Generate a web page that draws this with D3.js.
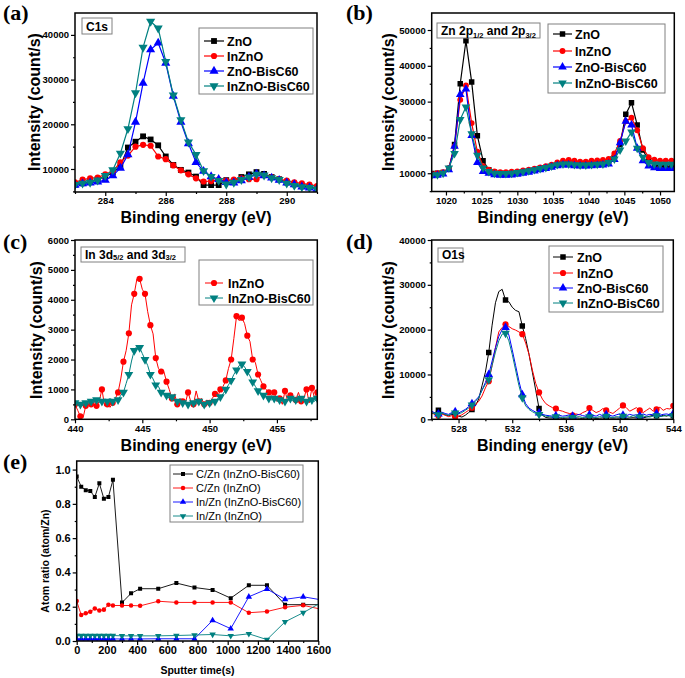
<!DOCTYPE html>
<html><head><meta charset="utf-8">
<script src="https://cdn.jsdelivr.net/npm/d3@7"></script>
<style>body{margin:0;background:#fff}svg{display:block}</style>
</head><body><script>
// ---------------- DATA ----------------
const seriesNames = ["ZnO","InZnO","ZnO-BisC60","InZnO-BisC60"];
// (a) C1s
const aX = [283.0,283.25,283.5,283.75,284.0,284.25,284.5,284.75,285.0,285.25,285.5,285.75,286.0,286.25,286.5,286.75,287.0,287.25,287.5,287.75,288.0,288.25,288.5,288.75,289.0,289.25,289.5,289.75,290.0,290.25,290.5,290.75,291.0];
const aZnO = [6500,6800,7200,7800,8300,9200,10600,14800,16100,17300,16600,15300,12800,10900,9800,9200,8300,6400,6400,6400,7500,7300,8200,8800,9300,8900,8200,7700,7000,6600,6200,6000,5800];
const aInZnO = [7000,7600,7900,8100,8800,9500,11500,13000,15000,15400,15200,12800,12200,10800,9700,8800,7900,7200,7300,7600,7400,7600,7900,7700,7700,8600,8200,7700,7400,7000,6800,6500,6200];
const aZnOBis = [6400,6700,6900,7100,7500,8500,10200,13200,20500,29200,36700,38200,33700,26300,20500,15700,11500,9500,8300,7700,7000,6900,7400,8200,8900,8500,8000,7500,6900,6500,6000,5800,5500];
const aInZnOBis = [6500,6800,7000,7500,8500,9800,13500,19000,27000,37200,43000,41500,34000,26500,21000,16000,13200,9600,8300,7400,6600,7000,7600,8200,8800,8600,8000,7600,6800,6300,6000,5800,5500];
// (b) Zn 2p
const bX = [1018.0,1018.8,1019.6,1020.4,1021.2,1022.0,1022.8,1023.6,1024.4,1025.2,1026.0,1026.8,1027.6,1028.4,1029.2,1030.0,1030.8,1031.6,1032.4,1033.2,1034.0,1034.8,1035.6,1036.4,1037.2,1038.0,1038.8,1039.6,1040.4,1041.2,1042.0,1042.8,1043.6,1044.4,1045.2,1046.0,1046.8,1047.6,1048.4,1049.2,1050.0,1050.8,1051.6,1052.4];
const bZnO = [9900,10000,10200,11200,18000,35000,47000,35500,20500,13500,11000,10300,10000,10000,10000,10200,10400,10700,11000,11300,11600,12000,12400,12800,13000,12800,12700,12700,12800,12900,13000,13300,14500,18000,26500,29700,23500,16500,13500,12300,12000,11800,11800,11800];
const bInZnO = [9800,10000,10300,11500,17500,30500,34500,24000,16000,12000,11000,10500,10300,10300,10400,10500,10800,11000,11300,11600,12000,12400,13000,13500,13700,13500,13200,13200,13500,13600,13700,14000,15500,19000,24500,25500,22000,17000,14500,13800,13500,13500,13500,13500];
const bZnOBis = [9300,9400,9800,11000,17500,32000,33500,20500,13000,10500,10000,9600,9400,9400,9500,9700,10000,10300,10600,11000,11300,11700,12100,12300,12300,12100,12000,12000,12100,12200,12300,12600,13800,18500,24500,23500,17000,13500,12000,11500,11300,11300,11300,11300];
const bInZnOBis = [9500,9600,10000,11500,15500,25000,28500,21000,15000,11500,10500,10000,9900,9900,10000,10200,10400,10700,11000,11300,11600,12000,12400,12600,12600,12400,12300,12300,12400,12500,12600,13000,14000,16500,19000,21500,17000,14500,13000,12600,12500,12500,12500,12500];
// (c) In 3d
const cX = [440.0,440.2,440.4,440.6,440.8,441.0,441.2,441.4,441.6,441.8,
 442.0,442.2,442.4,442.6,442.8,443.0,443.2,443.4,443.6,443.8,
 444.0,444.2,444.4,444.6,444.8,445.0,445.2,445.4,445.6,445.8,
 446.0,446.2,446.4,446.6,446.8,447.0,447.2,447.4,447.6,447.8,
 448.0,448.2,448.4,448.6,448.8,449.0,449.2,449.4,449.6,449.8,
 450.0,450.2,450.4,450.6,450.8,451.0,451.2,451.4,451.6,451.8,
 452.0,452.2,452.4,452.6,452.8,453.0,453.2,453.4,453.6,453.8,
 454.0,454.2,454.4,454.6,454.8,455.0,455.2,455.4,455.6,455.8,
 456.0,456.2,456.4,456.6,456.8,457.0,457.2,457.4,457.6,457.8,
 458.0];
const cInZnO = [500,300,100,50,450,600,500,650,450,600,
 1000,450,500,400,550,700,900,1350,1930,2300,
 2880,3830,4200,4700,4700,4350,4200,3600,3150,2860,
 2050,1700,1600,1600,1260,1000,700,850,500,700,
 600,550,900,600,500,950,600,700,500,650,
 550,700,850,750,1000,1100,1300,1700,2000,2700,
 3450,3300,3400,3200,2800,2600,2000,1900,1500,1300,
 1100,1000,900,800,900,600,700,500,950,600,
 800,700,650,900,600,700,1000,550,1050,700,
 900];
const cInZnOBis = [550,450,500,450,550,500,600,550,650,550,
 600,650,600,700,600,700,650,800,900,1200,
 1500,1950,2300,2450,2400,2200,2000,1800,1500,1350,
 1150,1100,900,850,800,700,750,650,600,650,
 550,600,500,600,550,500,600,550,500,600,
 550,650,600,700,750,850,1000,1150,1300,1500,
 1650,1800,1850,1750,1600,1450,1250,1100,950,900,
 800,750,700,650,700,600,650,700,600,650,
 700,600,650,600,700,650,600,700,650,600,
 700];
// (d) O1s
const dX = [526.0,526.25,526.5,526.75,527.0,527.25,527.5,527.75,
 528.0,528.25,528.5,528.75,529.0,529.25,529.5,529.75,
 530.0,530.25,530.5,530.75,531.0,531.25,531.5,531.75,
 532.0,532.25,532.5,532.75,533.0,533.25,533.5,533.75,
 534.0,534.25,534.5,534.75,535.0,535.25,535.5,535.75,
 536.0,536.25,536.5,536.75,537.0,537.25,537.5,537.75,
 538.0,538.25,538.5,538.75,539.0,539.25,539.5,539.75,
 540.0,540.25,540.5,540.75,541.0,541.25,541.5,541.75,
 542.0,542.25,542.5,542.75,543.0,543.25,543.5,543.75,
 544.0];
const dZnO = [1200,1500,2000,1300,1000,800,1100,900,
 700,500,900,1500,2200,3000,4500,7500,
 10500,14900,21000,26000,28500,29000,26600,26200,
 25000,24300,24000,20800,18000,14500,10500,6500,
 2400,900,400,300,300,250,300,200,
 250,300,200,300,250,200,300,250,
 300,200,250,300,200,300,250,300,
 250,300,200,300,350,300,400,300,
 500,700,900,800,600,900,700,1000,
 800];
const dInZnO = [1500,1000,800,1200,900,600,800,500,
 700,1000,1500,2000,2600,3200,4000,5200,
 7000,8500,12000,16000,19500,20500,21200,20700,
 20200,19900,19500,19000,17000,14500,11000,8000,
 6000,4500,3500,3000,2600,2400,2000,1800,
 1500,1300,900,1200,1000,1500,1800,2500,
 2000,1500,1800,2400,2000,1600,1300,1900,
 2500,3100,2600,1800,2200,2600,2000,1500,
 2000,2500,1800,2200,2700,2000,2400,2300,
 3000];
const dZnOBis = [1800,1400,1200,1600,1300,1100,1500,1700,
 1400,1800,2200,2800,3500,4200,5000,6500,
 8200,10000,13000,16000,18500,20000,20500,18800,
 15500,12000,8500,5500,3500,2500,2000,1600,
 1400,1100,900,800,700,800,900,700,
 800,1000,700,900,1100,800,700,1000,
 900,700,1100,800,1000,900,700,1000,
 1200,900,800,1100,900,1000,800,1200,
 900,1100,1000,1300,900,1100,1200,1000,
 1300];
const dInZnOBis = [1500,1200,1000,1400,1100,900,1300,1400,
 1200,1500,2000,2500,3200,4000,4800,6500,
 7800,8800,12000,15000,17500,19000,19200,17500,
 14500,11000,7500,4800,3000,2200,1700,1300,
 1100,900,700,600,500,600,500,400,
 500,600,400,500,600,400,500,600,
 500,400,600,500,700,500,400,600,
 500,700,600,500,800,600,500,700,
 600,500,700,800,600,700,900,700,
 800];
// (e) atom ratio vs sputter time
const eNames = ["C/Zn (InZnO-BisC60)","C/Zn (InZnO)","In/Zn (InZnO-BisC60)","In/Zn (InZnO)"];
const eX = [0,30,60,90,120,150,180,210,240,300,360,420,540,660,780,900,1020,1140,1260,1380,1500,1620];
const eCZnBis = [0.96,0.90,0.88,0.875,0.84,0.92,0.83,0.84,0.94,0.224,0.278,0.305,0.305,0.338,0.312,0.298,0.25,0.325,0.325,0.212,0.212,0.212];
const eCZn = [0.233,0.152,0.162,0.17,0.19,0.178,0.183,0.212,0.207,0.207,0.207,0.205,0.232,0.225,0.225,0.225,0.225,0.165,0.172,0.197,0.208,0.185];
const eInZnBis = [0.012,0.012,0.012,0.012,0.012,0.012,0.012,0.012,0.012,0.012,0.012,0.012,0.013,0.013,0.013,0.12,0.072,0.258,0.303,0.243,0.258,0.24];
const eInZn = [0.032,0.032,0.032,0.032,0.032,0.032,0.032,0.032,0.032,0.03,0.03,0.03,0.03,0.032,0.035,0.038,0.03,0.042,0.008,0.112,0.165,0.225];

// ---------------- DRAWING ----------------
const FONT = "'Liberation Sans', Arial, sans-serif";
const SERIF = "'Liberation Serif', 'Times New Roman', serif";
const C = {k:"#000000", r:"#ff0000", b:"#0000ff", t:"#008080"};
const svg = d3.select("body").append("svg").attr("width",685).attr("height",678)
  .style("font-family",FONT);

function markerPath(shape,size){
  const t = {square:d3.symbolSquare, circle:d3.symbolCircle, up:d3.symbolTriangle, down:d3.symbolTriangle}[shape];
  return d3.symbol().type(t).size(size)();
}
function marker(g,shape,size,color,cx,cy){
  g.append("path").attr("d",markerPath(shape,size)).attr("fill",color)
   .attr("transform",`translate(${cx},${cy})`+(shape==="down"?" rotate(180)":""));
}

let clipN=0;
function panel(cfg){
  const f=cfg.frame;
  const x=d3.scaleLinear().domain(cfg.xDomain).range([f.L,f.R]);
  const y=d3.scaleLinear().domain(cfg.yDomain).range([f.B,f.T]);
  const g=svg.append("g");
  const id="clip"+(clipN++);
  svg.append("clipPath").attr("id",id).append("rect")
    .attr("x",f.L).attr("y",f.T-1).attr("width",f.R-f.L).attr("height",f.B-f.T+1);
  const plot=g.append("g").attr("clip-path",`url(#${id})`);
  cfg.series.forEach(s=>{
    const n=Math.min(s.x.length,s.y.length);
    const pts=d3.range(n).map(i=>[s.x[i],s.y[i]]);
    plot.append("path").datum(pts)
      .attr("d",d3.line().x(d=>x(d[0])).y(d=>y(d[1])))
      .attr("fill","none").attr("stroke",s.color).attr("stroke-width",cfg.lw).attr("stroke-linejoin","round");
    const ev=cfg.mEvery||1, off=cfg.mOff||0;
    pts.forEach((p,i)=>{ if(i>=off && (i-off)%ev===0) marker(plot,s.shape,cfg.mSize[s.shape],s.color,x(p[0]),y(p[1])); });
  });
  // axes
  const styleAxis=(a,fs)=>{
    a.select(".domain").remove();
    a.selectAll("line").attr("stroke","#000").attr("stroke-width",1.2);
    a.selectAll("text").attr("font-size",fs).attr("font-weight","bold").attr("font-family",FONT).attr("fill","#000");
  };
  const ax=g.append("g").attr("transform",`translate(0,${f.B})`)
    .call(d3.axisBottom(x).tickValues(cfg.xTicks).tickFormat(cfg.xFmt).tickSize(4).tickPadding(cfg.xPad));
  styleAxis(ax,cfg.tickFont);
  const axm=g.append("g").attr("transform",`translate(0,${f.B})`)
    .call(d3.axisBottom(x).tickValues(cfg.xMinor).tickFormat("").tickSize(2));
  styleAxis(axm,cfg.tickFont);
  const ay=g.append("g").attr("transform",`translate(${f.L},0)`)
    .call(d3.axisLeft(y).tickValues(cfg.yTicks).tickFormat(cfg.yFmt).tickSize(4).tickPadding(cfg.yPad));
  styleAxis(ay,cfg.tickFont);
  const aym=g.append("g").attr("transform",`translate(${f.L},0)`)
    .call(d3.axisLeft(y).tickValues(cfg.yMinor).tickFormat("").tickSize(2));
  styleAxis(aym,cfg.tickFont);
  // frame
  g.append("rect").attr("x",f.L).attr("y",f.T).attr("width",f.R-f.L).attr("height",f.B-f.T)
    .attr("fill","none").attr("stroke","#000").attr("stroke-width",1.5);
  // titles
  g.append("text").attr("x",(f.L+f.R)/2).attr("y",cfg.xTitleY).attr("text-anchor","middle")
    .attr("font-size",cfg.titleFont).attr("font-weight","bold").text(cfg.xTitle);
  g.append("text").attr("transform",`translate(${cfg.yTitleX},${cfg.yTitleCY}) rotate(-90)`)
    .attr("text-anchor","middle").attr("font-size",cfg.titleFont).attr("font-weight","bold").text(cfg.yTitle);
  // panel letter
  g.append("text").attr("x",cfg.letter.x).attr("y",cfg.letter.y).attr("font-family",SERIF)
    .attr("font-size",22).attr("font-weight","bold").text(cfg.letter.t);
  // legend
  const lg=cfg.legend;
  g.append("rect").attr("x",lg.x).attr("y",lg.y).attr("width",lg.w).attr("height",lg.h)
    .attr("fill","#fff").attr("stroke","#808080").attr("stroke-width",1);
  cfg.series.forEach((s,i)=>{
    const yy=lg.rows[i];
    g.append("line").attr("x1",lg.l1).attr("x2",lg.l2).attr("y1",yy).attr("y2",yy)
      .attr("stroke",s.color).attr("stroke-width",cfg.lw);
    marker(g,s.shape,cfg.mSize[s.shape],s.color,(lg.l1+lg.l2)/2,yy);
    g.append("text").attr("x",lg.tx).attr("y",yy).attr("dy","0.36em")
      .attr("font-size",lg.fs).attr("font-weight",lg.fw).text(s.name);
  });
  // label box
  if(cfg.label){
    const lb=cfg.label;
    g.append("rect").attr("x",lb.x).attr("y",lb.y).attr("width",lb.w).attr("height",lb.h)
      .attr("fill","#fff").attr("stroke","#808080").attr("stroke-width",1);
    const t=g.append("text").attr("x",lb.x+4).attr("y",lb.y+lb.h-3.5).attr("font-size",12).attr("font-weight","bold");
    lb.parts.forEach(p=>{
      t.append("tspan").attr("font-size",p.small?7.5:12).attr("dy",p.dy||0).text(p.t);
    });
  }
}

const fmtD=d3.format("d");
const big={square:34,circle:30,up:36,down:36};

panel({
  frame:{L:75,R:317,T:13,B:192}, xDomain:[283,291], yDomain:[4850,44900],
  xTicks:[284,286,288,290], xMinor:[283,285,287,289,291], yTicks:[10000,20000,30000,40000], yMinor:[5000,15000,25000,35000],
  xFmt:fmtD, yFmt:fmtD, xPad:1.5, yPad:2, tickFont:9.5, titleFont:16,
  xTitle:"Binding energy (eV)", xTitleY:223, yTitle:"Intensity (count/s)", yTitleX:40, yTitleCY:102,
  letter:{x:3,y:20,t:"(a)"}, lw:1.2, mSize:big,
  series:[
    {name:seriesNames[0],x:aX,y:aZnO,color:C.k,shape:"square"},
    {name:seriesNames[1],x:aX,y:aInZnO,color:C.r,shape:"circle"},
    {name:seriesNames[2],x:aX,y:aZnOBis,color:C.b,shape:"up"},
    {name:seriesNames[3],x:aX,y:aInZnOBis,color:C.t,shape:"down"}],
  legend:{x:199,y:28,w:114,h:66,rows:[41,56,71,86],l1:204,l2:224,tx:227,fs:12.5,fw:"bold"},
  label:{x:82,y:18,w:30,h:16,parts:[{t:"C1s"}]}
});

panel({
  frame:{L:431.7,R:674.3,T:13,B:191.5}, xDomain:[1018,1052], yDomain:[4900,54750],
  xTicks:[1020,1025,1030,1035,1040,1045,1050], xMinor:[1022.5,1027.5,1032.5,1037.5,1042.5,1047.5],
  yTicks:[10000,20000,30000,40000,50000], yMinor:[5000,15000,25000,35000,45000],
  xFmt:fmtD, yFmt:fmtD, xPad:1.5, yPad:2, tickFont:9.5, titleFont:16,
  xTitle:"Binding energy (eV)", xTitleY:223, yTitle:"Intensity (count/s)", yTitleX:394, yTitleCY:102,
  letter:{x:346,y:20,t:"(b)"}, lw:1.2, mSize:{square:30,circle:27,up:32,down:32},
  series:[
    {name:seriesNames[0],x:bX,y:bZnO,color:C.k,shape:"square"},
    {name:seriesNames[1],x:bX,y:bInZnO,color:C.r,shape:"circle"},
    {name:seriesNames[2],x:bX,y:bZnOBis,color:C.b,shape:"up"},
    {name:seriesNames[3],x:bX,y:bInZnOBis,color:C.t,shape:"down"}],
  legend:{x:548,y:24,w:117,h:69,rows:[34,51,67,83],l1:553,l2:572,tx:575,fs:12.5,fw:"bold"},
  label:{x:437,y:23,w:103,h:15,parts:[{t:"Zn 2p"},{t:"1/2",small:true,dy:3},{t:" and 2p",dy:-3},{t:"3/2",small:true,dy:3}]}
});

panel({
  frame:{L:75,R:317.3,T:240,B:419.3}, xDomain:[440,458], yDomain:[0,6000],
  xTicks:[440,445,450,455], xMinor:[442.5,447.5,452.5,457.5], yTicks:[0,1000,2000,3000,4000,5000,6000], yMinor:[500,1500,2500,3500,4500,5500],
  xFmt:fmtD, yFmt:fmtD, xPad:1.5, yPad:2, tickFont:9.5, titleFont:16,
  xTitle:"Binding energy (eV)", xTitleY:451, yTitle:"Intensity (count/s)", yTitleX:42, yTitleCY:330,
  letter:{x:3,y:249,t:"(c)"}, lw:1, mSize:{circle:30,down:34}, mEvery:2,
  series:[
    {name:seriesNames[1],x:cX,y:cInZnO,color:C.r,shape:"circle"},
    {name:seriesNames[3],x:cX,y:cInZnOBis,color:C.t,shape:"down"}],
  legend:{x:199,y:260,w:114,h:45,rows:[283,298],l1:205,l2:223,tx:228,fs:12.5,fw:"bold"},
  label:{x:81,y:247,w:104,h:15,parts:[{t:"In 3d"},{t:"5/2",small:true,dy:1},{t:" and 3d",dy:-1},{t:"3/2",small:true,dy:1}]}
});

panel({
  frame:{L:431.7,R:673.3,T:240,B:419.3}, xDomain:[526,544], yDomain:[0,40000],
  xTicks:[528,532,536,540,544], xMinor:[526,530,534,538,542], yTicks:[0,10000,20000,30000,40000], yMinor:[5000,15000,25000,35000],
  xFmt:fmtD, yFmt:fmtD, xPad:1.5, yPad:2, tickFont:9.5, titleFont:16,
  xTitle:"Binding energy (eV)", xTitleY:451, yTitle:"Intensity (count/s)", yTitleX:394, yTitleCY:330,
  letter:{x:346,y:249,t:"(d)"}, lw:1, mSize:{square:30,circle:30,up:32,down:32}, mEvery:5, mOff:2,
  series:[
    {name:seriesNames[0],x:dX,y:dZnO,color:C.k,shape:"square"},
    {name:seriesNames[1],x:dX,y:dInZnO,color:C.r,shape:"circle"},
    {name:seriesNames[2],x:dX,y:dZnOBis,color:C.b,shape:"up"},
    {name:seriesNames[3],x:dX,y:dInZnOBis,color:C.t,shape:"down"}],
  legend:{x:549,y:246,w:114,h:66,rows:[257,273,288,303],l1:553,l2:573,tx:577,fs:12.5,fw:"bold"},
  label:{x:438,y:248,w:25,h:14,parts:[{t:"O1s"}]}
});

panel({
  frame:{L:76.7,R:318.3,T:461,B:641}, xDomain:[0,1600], yDomain:[0,1.05],
  xTicks:[0,200,400,600,800,1000,1200,1400,1600], xMinor:[100,300,500,700,900,1100,1300,1500],
  yTicks:[0,0.2,0.4,0.6,0.8,1.0], yMinor:[0.1,0.3,0.5,0.7,0.9],
  xFmt:fmtD, yFmt:d3.format(".1f"), xPad:1.5, yPad:2, tickFont:11, titleFont:10.5,
  xTitle:"Sputter time(s)", xTitleY:674, yTitle:"Atom ratio (atom/Zn)", yTitleX:49, yTitleCY:561,
  letter:{x:3,y:469,t:"(e)"}, lw:0.9, mSize:{square:16,circle:16,up:18,down:18},
  series:[
    {name:eNames[0],x:eX,y:eCZnBis,color:C.k,shape:"square"},
    {name:eNames[1],x:eX,y:eCZn,color:C.r,shape:"circle"},
    {name:eNames[2],x:eX,y:eInZnBis,color:C.b,shape:"up"},
    {name:eNames[3],x:eX,y:eInZn,color:C.t,shape:"down"}],
  legend:{x:170,y:465,w:133,h:57,rows:[474,488,502,516],l1:173,l2:193,tx:196,fs:11,fw:"normal"}
});
</script></body></html>
